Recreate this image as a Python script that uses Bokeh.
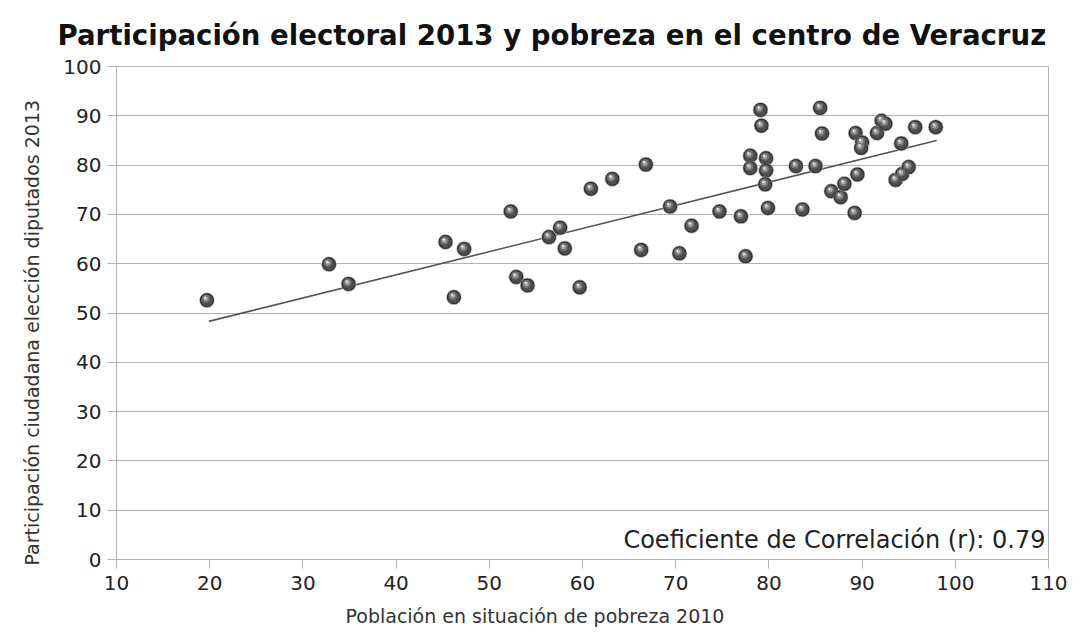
import numpy as np
from bokeh.plotting import figure
from bokeh.models import Range1d, SingleIntervalTicker, Label, ColumnDataSource, Title
from bokeh.embed import file_html
from bokeh.resources import INLINE

# Data
pobreza = [19.7, 32.8, 34.9, 45.3, 46.2, 47.3, 52.3, 52.9, 54.1, 56.4,
           57.6, 58.1, 59.7, 60.9, 63.2, 66.3, 66.8, 69.4, 70.4, 71.7,
           74.7, 77.0, 77.5, 78.0, 78.0, 79.1, 79.2, 79.7, 79.7, 79.6,
           79.9, 82.9, 83.6, 85.0, 85.5, 85.7, 86.7, 87.7, 88.1, 89.2,
           89.5, 89.3, 90.0, 89.9, 91.6, 92.1, 92.5, 93.6, 94.3, 95.0,
           94.2, 95.7, 97.9]
participacion = [52.6, 59.9, 55.9, 64.4, 53.2, 63.0, 70.6, 57.3, 55.6, 65.4,
                 67.3, 63.1, 55.2, 75.2, 77.2, 62.8, 80.1, 71.6, 62.1, 67.7,
                 70.6, 69.6, 61.5, 81.9, 79.4, 91.2, 88.0, 81.4, 78.9, 76.1,
                 71.3, 79.8, 71.0, 79.8, 91.6, 86.4, 74.7, 73.5, 76.2, 70.3,
                 78.1, 86.5, 84.6, 83.5, 86.5, 89.0, 88.4, 77.0, 78.2, 79.6,
                 84.4, 87.7, 87.7]
trend_x = [19.9, 98.0]
trend_y = [48.3, 85.0]

title_text = "Participación electoral 2013 y pobreza en el centro de Veracruz"
x_title = "Población en situación de pobreza 2010"
y_title = "Participación ciudadana elección diputados 2013"
corr_text = "Coeficiente de Correlación (r): 0.79"

p = figure(width=1075, height=637, output_backend="svg", toolbar_location=None,
           x_range=Range1d(10, 110), y_range=Range1d(0, 100),
           min_border_left=116, min_border_right=27, min_border_top=66,
           min_border_bottom=78)

p.title.text = title_text
p.title.text_font = "DejaVu Sans"
p.title.text_font_style = "bold"
p.title.text_font_size = "27.6px"
p.title.align = "left"
p.title.offset = -59
p.title.standoff = 30
p.title.text_color = "#111111"

p.background_fill_color = "white"
p.border_fill_color = "white"
p.outline_line_color = "#b3b3b3"
p.outline_line_width = 1

p.xgrid.visible = False
p.ygrid.grid_line_color = "#b3b3b3"
p.ygrid.grid_line_width = 1

for ax in (p.xaxis[0], p.yaxis[0]):
    ax.ticker = SingleIntervalTicker(interval=10)
    ax.axis_line_color = "#b3b3b3"
    ax.major_tick_line_color = "#b3b3b3"
    ax.minor_tick_line_color = None
    ax.major_tick_in = 0
    ax.major_tick_out = 9
    ax.major_label_text_font = "DejaVu Sans"
    ax.major_label_text_font_size = "20px"
    ax.major_label_text_color = "#222222"

p.xaxis.major_label_standoff = 7
p.yaxis.major_label_standoff = 6

xt = Title(text=x_title, align="left", offset=229, standoff=20,
           text_font="DejaVu Sans", text_font_size="19px",
           text_font_style="normal", text_color="#333333")
p.add_layout(xt, "below")
yt = Title(text=y_title, align="left", offset=-6, standoff=35,
           text_font="DejaVu Sans", text_font_size="19px",
           text_font_style="normal", text_color="#333333")
p.add_layout(yt, "left")

# trend line
p.line(trend_x, trend_y, line_color="#555555", line_width=1.6)

# spheres: layered circles for a shaded look
px = np.array(pobreza)
py = np.array(participacion)
src = ColumnDataSource(dict(x=px, y=py))
p.scatter("x", "y", source=src, size=15, fill_color="#2e2e2e", line_color="#dddddd", line_width=1, line_alpha=0.6)
p.scatter("x", "y", source=src, size=12, fill_color="#4d4d4d", line_color=None)
hl = ColumnDataSource(dict(x=px - 0.12, y=py + 0.3))
p.scatter("x", "y", source=hl, size=8, fill_color="#737373", line_color=None)
p.scatter("x", "y", source=hl, size=4.5, fill_color="#aaaaaa", line_color=None)
hl2 = ColumnDataSource(dict(x=px - 0.2, y=py + 0.5))
p.scatter("x", "y", source=hl2, size=2.2, fill_color="#eeeeee", line_color=None)

lab = Label(x=109.68, y=4.0, text=corr_text, text_align="right", text_baseline="alphabetic",
            text_font="DejaVu Sans", text_font_size="24px", text_color="#222222")
p.add_layout(lab)

open("out.html", "w").write(file_html(p, INLINE))
